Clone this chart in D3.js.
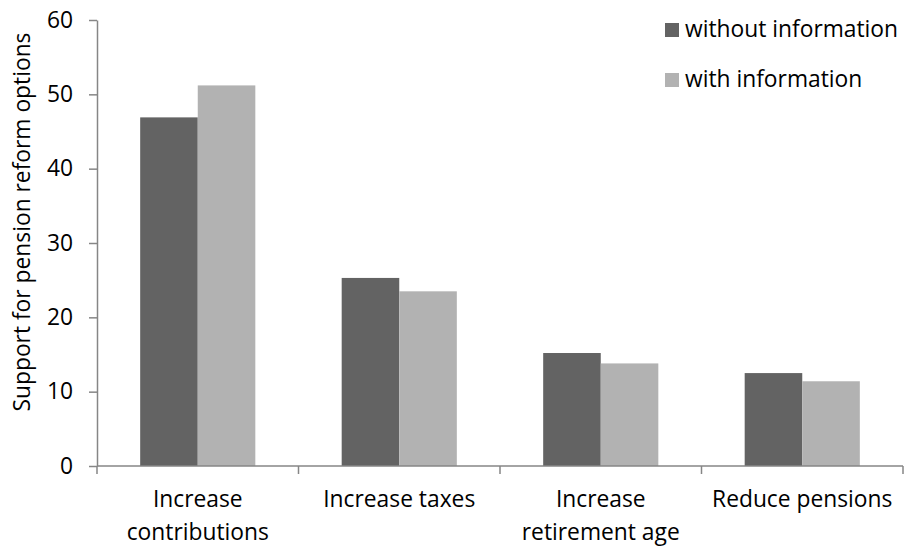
<!DOCTYPE html>
<html><head><meta charset="utf-8">
<script src="https://cdn.jsdelivr.net/npm/d3@7/dist/d3.min.js"></script>
<style>body{margin:0;background:#fff}svg{display:block}text{font-family:"Open Sans",sans-serif;fill:#000}</style>
</head><body><svg id="c" width="905" height="546"></svg>
<script>
const categories = [["Increase","contributions"],["Increase taxes"],["Increase","retirement age"],["Reduce pensions"]];
const seriesNames = ["without information","with information"];
const withoutInfo = [46.9, 25.3, 15.2, 12.5];
const withInfo = [51.2, 23.5, 13.8, 11.4];
const yTicks = [0,10,20,30,40,50,60];
const colors = ["#636363","#b2b2b2"];
const FS = "22.8px";

const svg = d3.select("#c");
const L=97, R=903, T=20, B=466;
const x = d3.scaleBand().domain(d3.range(categories.length)).range([L,R]).paddingInner(0).paddingOuter(0);
const y = d3.scaleLinear().domain([0,60]).range([B,T]);
const inner = d3.scaleBand().domain([0,1]).range([0,x.bandwidth()]).paddingOuter(0.75).paddingInner(0);

const data = [withoutInfo, withInfo];
data.forEach((vals,s)=>{
  svg.append("g").selectAll("rect").data(vals).join("rect")
    .attr("x",(d,i)=>x(i)+inner(s))
    .attr("width",inner.bandwidth())
    .attr("y",d=>y(d))
    .attr("height",d=>B-y(d))
    .attr("fill",colors[s]);
});

// y axis
const ya = svg.append("g").attr("transform",`translate(${L},0)`)
  .call(d3.axisLeft(y).tickValues(yTicks).tickSize(8).tickSizeOuter(0).tickPadding(16));
ya.attr("font-family",null).attr("font-size",null);
ya.select(".domain").attr("stroke","#868686").attr("stroke-width",1.5);
ya.selectAll(".tick line").attr("stroke","#868686").attr("stroke-width",1.5);
ya.selectAll(".tick text").style("font-size",FS).attr("fill","#000");

// x axis
const xa = svg.append("g");
xa.append("line").attr("x1",L).attr("x2",R).attr("y1",B).attr("y2",B).attr("stroke","#868686").attr("stroke-width",1.5);
const bounds = d3.range(categories.length+1).map(i=> i<categories.length? x(i) : x(i-1)+x.bandwidth());
xa.selectAll("line.t").data(bounds).join("line").attr("class","t")
  .attr("x1",d=>d).attr("x2",d=>d).attr("y1",B).attr("y2",B+8)
  .attr("stroke","#868686").attr("stroke-width",1.5);
categories.forEach((lines,i)=>{
  const t = xa.append("text").attr("text-anchor","middle").style("font-size",FS)
    .attr("x",x(i)+x.bandwidth()/2);
  lines.forEach((ln,j)=>t.append("tspan").attr("x",x(i)+x.bandwidth()/2).attr("y",507+j*33).text(ln));
});

// y title
svg.append("text").attr("transform","translate(30,222) rotate(-90)").attr("text-anchor","middle")
  .style("font-size",FS).text("Support for pension reform options");

// legend
const lg = svg.append("g");
seriesNames.forEach((n,i)=>{
  lg.append("rect").attr("x",665).attr("y",23+i*50).attr("width",14).attr("height",14).attr("fill",colors[i]);
  lg.append("text").attr("x",685).attr("y",37+i*50).style("font-size",FS).text(n);
});
</script></body></html>
